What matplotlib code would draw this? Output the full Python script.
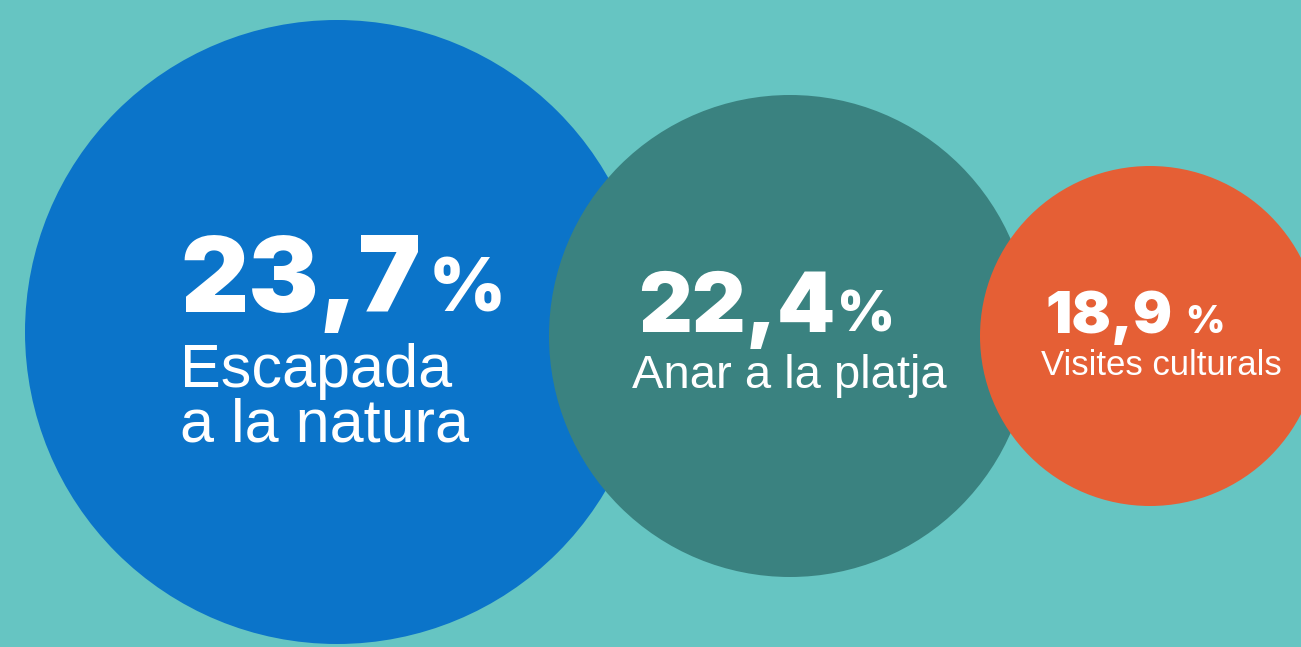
import matplotlib
matplotlib.use("Agg")
import matplotlib.pyplot as plt
from matplotlib.patches import Circle

# data
values = [23.7, 22.4, 18.9]
labels = ["Escapada\na la natura", "Anar a la platja", "Visites culturals"]
colors = ["#0B74C9", "#3A8280", "#E55F35"]
bg = "#66C5C2"

# layout (pixels)
centers = [(337, 332), (790, 336), (1150, 336)]
radii = [312, 241, 170]
num_pos = [(180, 312), (638, 332), (1045, 333)]
num_size = [76, 60, 42]
pct_size = [53, 40, 27]
pct_gap = [8, 2, 13]
lab_pos = [(180, 387), (632, 388), (1041, 375)]
lab_size = [44, 34, 25]
lab_spacing = [0.9, 1.0, 1.0]

W, H = 1301, 647
fig = plt.figure(figsize=(W / 100, H / 100), dpi=100)
fig.patch.set_facecolor(bg)
ax = fig.add_axes([0, 0, 1, 1])
ax.set_xlim(0, W)
ax.set_ylim(H, 0)
ax.set_aspect("equal")
ax.axis("off")

for (cx, cy), r, c in zip(centers, radii, colors):
    ax.add_patch(Circle((cx, cy), r, color=c, lw=0))

fig.canvas.draw()
renderer = fig.canvas.get_renderer()
inv = ax.transData.inverted()

for i, v in enumerate(values):
    num = f"{v:.1f}".replace(".", ",")
    x, y = num_pos[i]
    t = ax.text(x, y, num, color="white", fontsize=num_size[i], fontweight=900,
                family="Inter", ha="left", va="baseline")
    bb = t.get_window_extent(renderer)
    x_end = inv.transform((bb.x1, bb.y0))[0]
    ax.text(x_end + pct_gap[i], y, "%", color="white", fontsize=pct_size[i],
            fontweight=900, family="Inter", ha="left", va="baseline")
    lx, ly = lab_pos[i]
    lines = labels[i].split("\n")
    step = lab_size[i] * 100 / 72 * lab_spacing[i]
    for j, line in enumerate(lines):
        ax.text(lx, ly + j * step, line, color="white", fontsize=lab_size[i],
                family="Liberation Sans", ha="left", va="baseline")

fig.savefig("out.png", dpi=100, facecolor=bg)
